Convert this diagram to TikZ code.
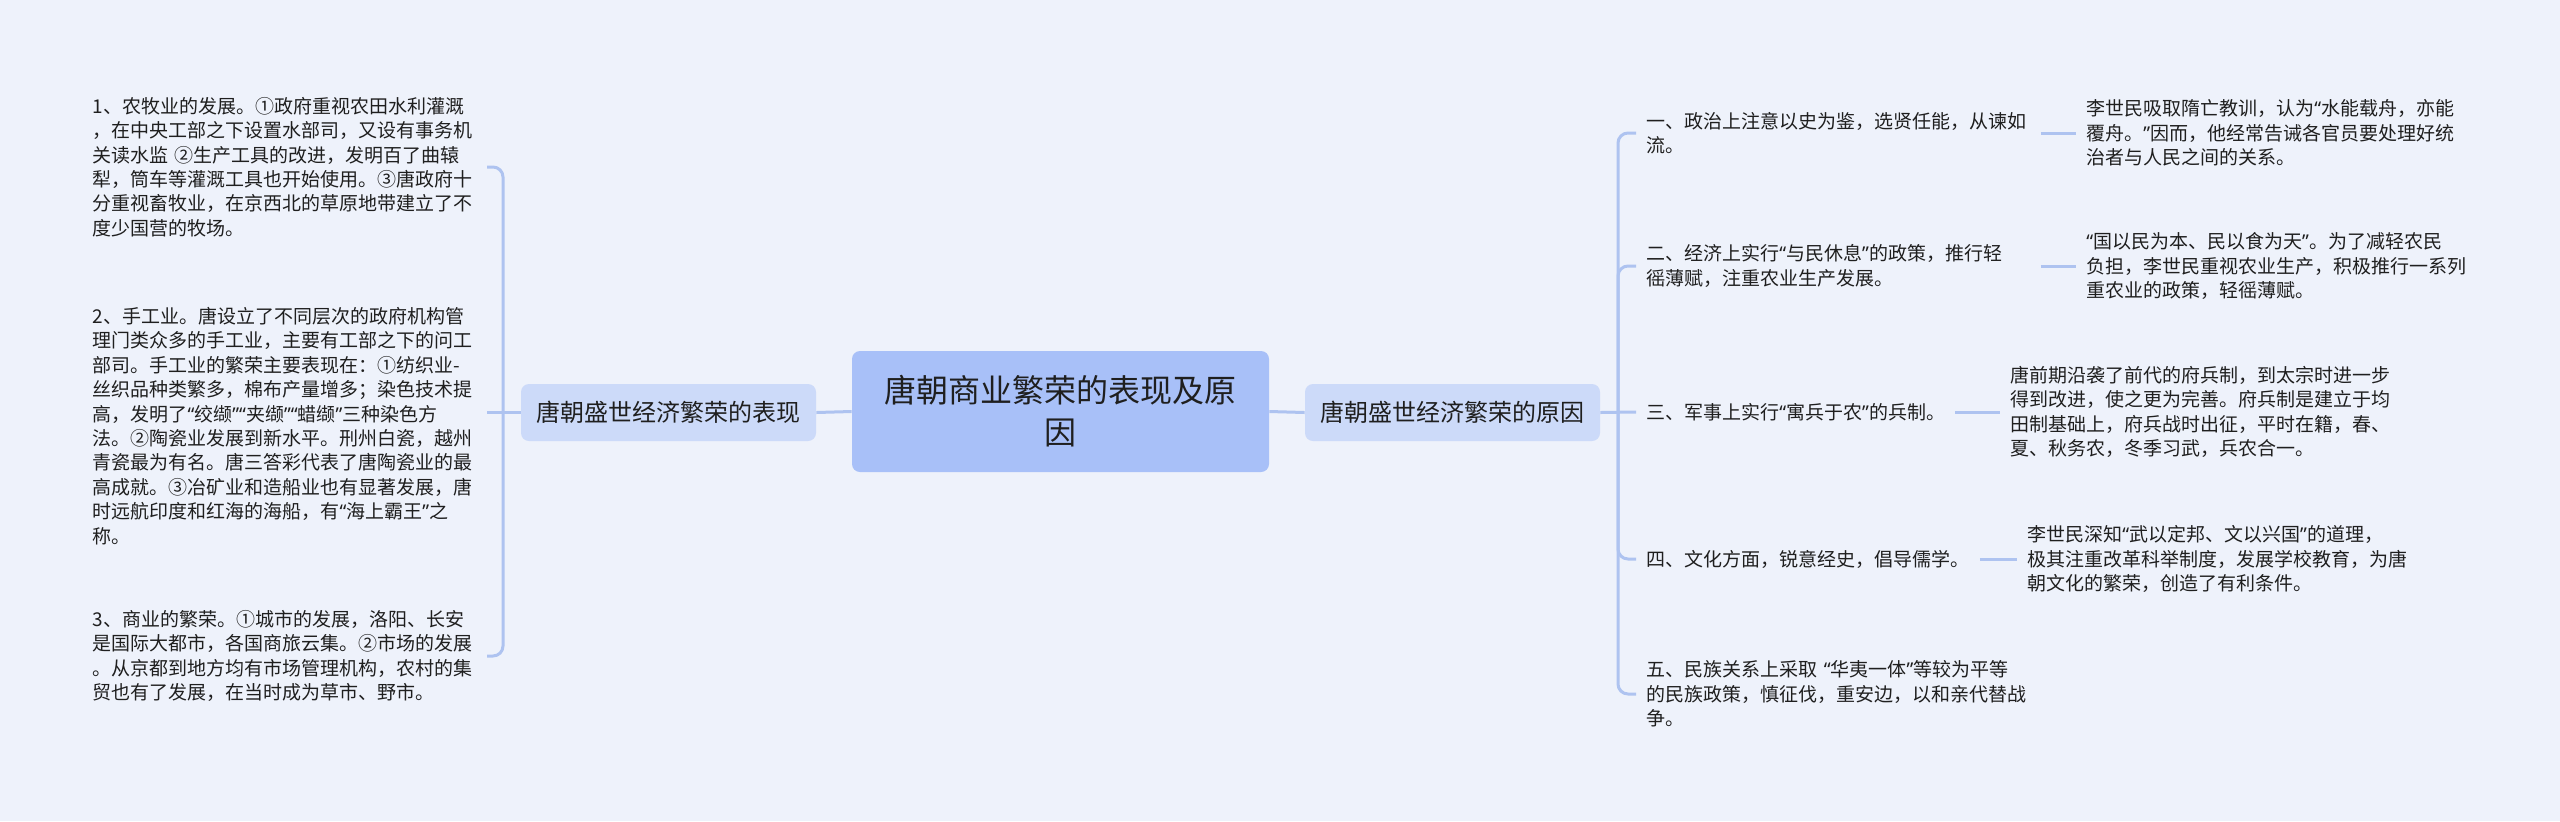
\documentclass[tikz,border=0pt]{standalone}
\usepackage{fontspec}
\usepackage{xcolor}
\usepackage{tikz}
\setmainfont{Noto Sans CJK SC}
\newfontfamily\quotefont{Noto Sans}
\newcommand{\qo}{{\quotefont “}}
\newcommand{\qc}{{\quotefont ”}}

\definecolor{bgcol}{HTML}{EEF2FB}
\definecolor{rootfill}{HTML}{A8C0F8}
\definecolor{branchfill}{HTML}{CCDAF9}
\definecolor{linecol}{HTML}{AEC3F0}
\definecolor{txtcol}{HTML}{1F1F1F}

\begin{document}
\begin{tikzpicture}[x=0.5pt, y=-0.5pt]
    % Define node styles
    \tikzstyle{root} = [rectangle, rounded corners=4pt, fill=rootfill, text=txtcol, minimum width=208.5pt, minimum height=60.5pt, align=center, font=\fontsize{16}{21}\selectfont]
    \tikzstyle{branch} = [rectangle, rounded corners=4pt, fill=branchfill, text=txtcol, minimum width=147.5pt, minimum height=28.5pt, font=\fontsize{12}{14}\selectfont]
    \tikzstyle{point} = [inner xsep=5pt, align=left, text=txtcol, font=\fontsize{9.5}{12.2}\selectfont]
    \tikzstyle{leaf} = [point, text width=192pt]
    \tikzstyle{link} = [draw=linecol, line width=1.5pt, rounded corners=5pt]

    % Background and page size
    \useasboundingbox (0,0) rectangle (2560,821);
    \fill[bgcol] (0,0) rectangle (2560,821);

    % Nodes - centre and the two branches
    \node[root] (root) at (1060.5,411.5) {唐朝商业繁荣的表现及原\\因};
    \node[branch] (lb) at (668.5,412.5) {唐朝盛世经济繁荣的表现};
    \node[branch] (rb) at (1452.5,412.5) {唐朝盛世经济繁荣的原因};

    % Left leaves
    \node[leaf, anchor=east] (l1) at (487,167) {1、农牧业的发展。①政府重视农田水利灌溉\\，在中央工部之下设置水部司，又设有事务机\\关读水监 ②生产工具的改进，发明百了曲辕\\犁，筒车等灌溉工具也开始使用。③唐政府十\\分重视畜牧业，在京西北的草原地带建立了不\\度少国营的牧场。};
    \node[leaf, anchor=east] (l2) at (487,426) {2、手工业。唐设立了不同层次的政府机构管\\理门类众多的手工业，主要有工部之下的问工\\部司。手工业的繁荣主要表现在：①纺织业-\\丝织品种类繁多，棉布产量增多；染色技术提\\高，发明了\qo 绞缬\qc\qo 夹缬\qc\qo 蜡缬\qc 三种染色方\\法。②陶瓷业发展到新水平。刑州白瓷，越州\\青瓷最为有名。唐三答彩代表了唐陶瓷业的最\\高成就。③冶矿业和造船业也有显著发展，唐\\时远航印度和红海的海船，有\qo 海上霸王\qc 之\\称。};
    \node[leaf, anchor=east] (l3) at (487,656) {3、商业的繁荣。①城市的发展，洛阳、长安\\是国际大都市，各国商旅云集。②市场的发展\\。从京都到地方均有市场管理机构，农村的集\\贸也有了发展，在当时成为草市、野市。};

    % Right points
    \node[leaf, anchor=west] (r1) at (1636,133) {一、政治上注意以史为鉴，选贤任能，从谏如\\流。};
    \node[leaf, anchor=west] (r2) at (1636,266) {二、经济上实行\qo 与民休息\qc 的政策，推行轻\\徭薄赋，注重农业生产发展。};
    \node[point, anchor=west] (r3) at (1636,412) {三、军事上实行\qo 寓兵于农\qc 的兵制。};
    \node[point, anchor=west] (r4) at (1636,559) {四、文化方面，锐意经史，倡导儒学。};
    \node[leaf, anchor=west] (r5) at (1636,694) {五、民族关系上采取~\qo 华夷一体\qc 等较为平等\\的民族政策，慎征伐，重安边，以和亲代替战\\争。};

    % Right leaves
    \node[leaf, anchor=west] (s1) at (2076,133) {李世民吸取隋亡教训，认为\qo 水能载舟，亦能\\覆舟。\qc 因而，他经常告诫各官员要处理好统\\治者与人民之间的关系。};
    \node[leaf, anchor=west] (s2) at (2076,266) {\qo 国以民为本、民以食为天\qc 。为了减轻农民\\负担，李世民重视农业生产，积极推行一系列\\重农业的政策，轻徭薄赋。};
    \node[leaf, anchor=west] (s3) at (2000,412) {唐前期沿袭了前代的府兵制，到太宗时进一步\\得到改进，使之更为完善。府兵制是建立于均\\田制基础上，府兵战时出征，平时在籍，春、\\夏、秋务农，冬季习武，兵农合一。};
    \node[leaf, anchor=west] (s4) at (2017,559) {李世民深知\qo 武以定邦、文以兴国\qc 的道理，\\极其注重改革科举制度，发展学校教育，为唐\\朝文化的繁荣，创造了有利条件。};

    % Hubs of the brackets
    \coordinate (lhub) at (503,412);
    \coordinate (rhub) at (1618,412);

    % Connectors
    \draw[link] (root.west) -- (lb.east);
    \draw[link] (root.east) -- (rb.west);
    \draw[link] (lb.west) -- (l2.east |- lb.west);
    \draw[link] (lhub) |- (l1.east);
    \draw[link] (lhub) |- (l3.east);
    \draw[link] (rb.east) -- (r3.west);
    \draw[link] (rhub) |- (r1.west);
    \draw[link] (rhub) |- (r2.west);
    \draw[link] (rhub) |- (r4.west);
    \draw[link] (rhub) |- (r5.west);
    \draw[link] (r1.east) -- (s1.west);
    \draw[link] (r2.east) -- (s2.west);
    \draw[link] (r3.east) -- (s3.west);
    \draw[link] (r4.east) -- (s4.west);
\end{tikzpicture}
\end{document}
